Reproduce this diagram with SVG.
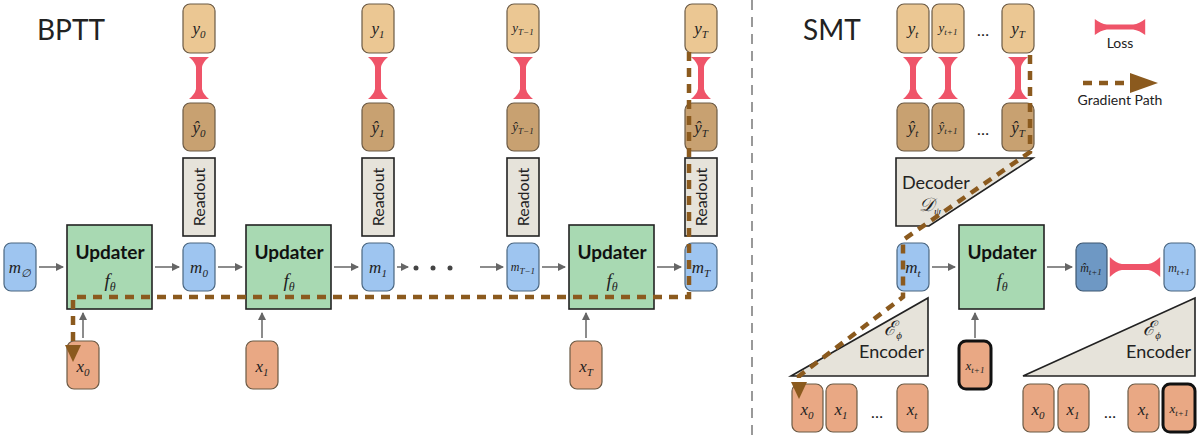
<svg xmlns="http://www.w3.org/2000/svg" width="1200" height="437" viewBox="0 0 1200 437">
<style>
.y{fill:#ebc793;stroke:#6b5a45;stroke-width:1.2}
.yh{fill:#c8a171;stroke:#6b5a45;stroke-width:1.2}
.x{fill:#e9a884;stroke:#6b5a45;stroke-width:1.2}
.xb{fill:#e9a884;stroke:#111;stroke-width:3}
.m{fill:#9ec5f0;stroke:#4a6680;stroke-width:1.2}
.md{fill:#6e98c4;stroke:#3d5670;stroke-width:1.2}
.up{fill:#a8d9b2;stroke:#222;stroke-width:1.6}
.ro{fill:#e6e3da;stroke:#222;stroke-width:1.6}
.t{font-family:"Liberation Serif",serif;font-style:italic;fill:#222;text-anchor:middle}
.s{font-family:"Lato","Open Sans",sans-serif;fill:#222}
.b{font-family:"Lato","Open Sans",sans-serif;font-weight:bold;font-size:19px;fill:#111;text-anchor:middle}
.a{stroke:#666;stroke-width:1.5;fill:none;marker-end:url(#ah)}
.g{stroke:#8b5a1e;stroke-width:4.5;fill:none;stroke-dasharray:9 7}
.loss{fill:#ef5469}
</style>
<defs>
<marker id="ah" markerWidth="8" markerHeight="8" refX="7" refY="4" orient="auto" markerUnits="userSpaceOnUse"><path d="M0,0 L8,4 L0,8 z" fill="#666"/></marker>
<path id="lv" d="M-10,-21 L10,-21 Q4,-16 3,-11 L3,11 Q4,16 10,21 L-10,21 Q-4,16 -3,11 L-3,-11 Q-4,-16 -10,-21 z"/>
</defs>
<text class="s" x="37" y="40" font-size="28">BPTT</text>
<text class="s" x="803" y="40" font-size="28">SMT</text>
<line x1="752" y1="0" x2="752" y2="437" stroke="#999" stroke-width="2" stroke-dasharray="10 7"/>

<g id="m-null"><rect class="m" x="4" y="243" width="32" height="48" rx="7"/><text class="t" x="20" y="273" font-size="17">m<tspan font-size="11" dy="4">∅</tspan></text></g>
<g id="updater1"><rect class="up" x="67" y="225" width="85" height="84"/><text class="b" x="110" y="259">Updater</text><text class="t" x="110" y="287" font-size="19">f<tspan font-size="12" dy="4">θ</tspan></text></g>
<g id="updater2"><rect class="up" x="246" y="225" width="85" height="84"/><text class="b" x="289" y="259">Updater</text><text class="t" x="289" y="287" font-size="19">f<tspan font-size="12" dy="4">θ</tspan></text></g>
<g id="updater3"><rect class="up" x="569" y="225" width="85" height="84"/><text class="b" x="612" y="259">Updater</text><text class="t" x="612" y="287" font-size="19">f<tspan font-size="12" dy="4">θ</tspan></text></g>

<g id="x0"><rect class="x" x="67" y="341" width="32" height="48" rx="7"/><text class="t" x="83" y="372" font-size="17">x<tspan font-size="11" dy="4">0</tspan></text></g>
<g id="x1"><rect class="x" x="246" y="341" width="32" height="48" rx="7"/><text class="t" x="262" y="372" font-size="17">x<tspan font-size="11" dy="4">1</tspan></text></g>
<g id="xT"><rect class="x" x="570" y="341" width="32" height="48" rx="7"/><text class="t" x="586" y="372" font-size="17">x<tspan font-size="11" dy="4">T</tspan></text></g>

<g id="col0">
<rect class="y" x="183" y="4" width="32" height="49" rx="7"/><text class="t" x="199" y="34" font-size="17">y<tspan font-size="11" dy="4">0</tspan></text>
<use href="#lv" class="loss" x="199" y="78"/>
<rect class="yh" x="183" y="103" width="32" height="48" rx="7"/><text class="t" x="199" y="133" font-size="17">ŷ<tspan font-size="11" dy="4">0</tspan></text>
<rect class="ro" x="183" y="158" width="32" height="78"/><text class="s" font-size="16" transform="translate(205,197) rotate(-90)" text-anchor="middle">Readout</text>
<rect class="m" x="183" y="243" width="32" height="48" rx="7"/><text class="t" x="199" y="273" font-size="17">m<tspan font-size="11" dy="4">0</tspan></text>
</g>
<g id="col1">
<rect class="y" x="362" y="4" width="32" height="49" rx="7"/><text class="t" x="378" y="34" font-size="17">y<tspan font-size="11" dy="4">1</tspan></text>
<use href="#lv" class="loss" x="378" y="78"/>
<rect class="yh" x="362" y="103" width="32" height="48" rx="7"/><text class="t" x="378" y="133" font-size="17">ŷ<tspan font-size="11" dy="4">1</tspan></text>
<rect class="ro" x="362" y="158" width="32" height="78"/><text class="s" font-size="16" transform="translate(384,197) rotate(-90)" text-anchor="middle">Readout</text>
<rect class="m" x="362" y="243" width="32" height="48" rx="7"/><text class="t" x="378" y="273" font-size="17">m<tspan font-size="11" dy="4">1</tspan></text>
</g>
<g id="colT1">
<rect class="y" x="507" y="4" width="32" height="49" rx="7"/><text class="t" x="523" y="32" font-size="13">y<tspan font-size="9" dy="3">T−1</tspan></text>
<use href="#lv" class="loss" x="523" y="78"/>
<rect class="yh" x="507" y="103" width="32" height="48" rx="7"/><text class="t" x="523" y="131" font-size="13">ŷ<tspan font-size="9" dy="3">T−1</tspan></text>
<rect class="ro" x="507" y="158" width="32" height="78"/><text class="s" font-size="16" transform="translate(529,197) rotate(-90)" text-anchor="middle">Readout</text>
<rect class="m" x="507" y="243" width="32" height="48" rx="7"/><text class="t" x="523" y="271" font-size="12">m<tspan font-size="9" dy="3">T−1</tspan></text>
</g>
<g id="colT">
<rect class="y" x="685" y="4" width="32" height="49" rx="7"/><text class="t" x="701" y="34" font-size="17">y<tspan font-size="11" dy="4">T</tspan></text>
<use href="#lv" class="loss" x="701" y="78"/>
<rect class="yh" x="685" y="103" width="32" height="48" rx="7"/><text class="t" x="701" y="133" font-size="17">ŷ<tspan font-size="11" dy="4">T</tspan></text>
<rect class="ro" x="685" y="158" width="32" height="78"/><text class="s" font-size="16" transform="translate(707,197) rotate(-90)" text-anchor="middle">Readout</text>
<rect class="m" x="685" y="243" width="32" height="48" rx="7"/><text class="t" x="701" y="273" font-size="17">m<tspan font-size="11" dy="4">T</tspan></text>
</g>
<g id="dots1" fill="#444"><circle cx="416" cy="268" r="2.5"/><circle cx="433" cy="268" r="2.5"/><circle cx="450" cy="268" r="2.5"/></g>

<!-- SMT -->
<g id="smt-y">
<rect class="y" x="897" y="4" width="32" height="49" rx="7"/><text class="t" x="913" y="34" font-size="17">y<tspan font-size="11" dy="4">t</tspan></text>
<rect class="y" x="932" y="4" width="32" height="49" rx="7"/><text class="t" x="948" y="32" font-size="13">y<tspan font-size="9" dy="3">t+1</tspan></text>
<text class="s" x="983" y="36" font-size="16" text-anchor="middle">…</text>
<rect class="y" x="1002" y="4" width="32" height="49" rx="7"/><text class="t" x="1018" y="34" font-size="17">y<tspan font-size="11" dy="4">T</tspan></text>
<use href="#lv" class="loss" x="913" y="78"/><use href="#lv" class="loss" x="948" y="78"/><use href="#lv" class="loss" x="1018" y="78"/>
<rect class="yh" x="897" y="103" width="32" height="48" rx="7"/><text class="t" x="913" y="133" font-size="17">ŷ<tspan font-size="11" dy="4">t</tspan></text>
<rect class="yh" x="932" y="103" width="32" height="48" rx="7"/><text class="t" x="948" y="131" font-size="13">ŷ<tspan font-size="9" dy="3">t+1</tspan></text>
<text class="s" x="983" y="135" font-size="16" text-anchor="middle">…</text>
<rect class="yh" x="1002" y="103" width="32" height="48" rx="7"/><text class="t" x="1018" y="133" font-size="17">ŷ<tspan font-size="11" dy="4">T</tspan></text>
</g>
<g id="decoder"><path d="M896,158 L1033,158 L929,226 L896,226 z" fill="#e6e3da" stroke="#222" stroke-width="1.6"/><text class="s" x="902" y="189" font-size="18">Decoder</text><text class="t" x="930" y="211" font-size="19" font-style="normal" font-family="'DejaVu Serif',serif">𝒟<tspan font-size="11" dy="4" font-style="italic">ψ</tspan></text></g>
<g id="mt"><rect class="m" x="897" y="243" width="32" height="48" rx="7"/><text class="t" x="913" y="273" font-size="17">m<tspan font-size="11" dy="4">t</tspan></text></g>
<g id="updater-smt"><rect class="up" x="959" y="225" width="85" height="84"/><text class="b" x="1002" y="259">Updater</text><text class="t" x="1002" y="287" font-size="19">f<tspan font-size="12" dy="4">θ</tspan></text></g>
<g id="mhat"><rect class="md" x="1076" y="243" width="31" height="48" rx="7"/><text class="t" x="1091" y="272" font-size="12">m̂<tspan font-size="9" dy="3">t+1</tspan></text></g>
<g id="mt1"><rect class="m" x="1164" y="243" width="31" height="48" rx="7"/><text class="t" x="1179" y="272" font-size="12">m<tspan font-size="9" dy="3">t+1</tspan></text></g>
<use href="#lv" class="loss" transform="translate(1135,267) rotate(90) scale(1,1.2)"/>
<g id="enc-left"><path d="M791,376 L928,298 L928,376 z" fill="#e6e3da" stroke="#222" stroke-width="1.6"/><text class="t" x="893" y="335" font-size="20" font-style="normal" font-family="'DejaVu Serif',serif">ℰ<tspan font-size="11" dy="4" font-style="italic">ϕ</tspan></text><text class="s" x="924" y="358" font-size="18" text-anchor="end">Encoder</text></g>
<g id="enc-right"><path d="M1023,376 L1195,298 L1195,376 z" fill="#e6e3da" stroke="#222" stroke-width="1.6"/><text class="t" x="1152" y="335" font-size="20" font-style="normal" font-family="'DejaVu Serif',serif">ℰ<tspan font-size="11" dy="4" font-style="italic">ϕ</tspan></text><text class="s" x="1191" y="358" font-size="18" text-anchor="end">Encoder</text></g>
<g id="xt1"><rect class="xb" x="959" y="341" width="32" height="48" rx="7"/><text class="t" x="975" y="370" font-size="13">x<tspan font-size="9" dy="3">t+1</tspan></text></g>
<g id="x-left">
<rect class="x" x="792" y="384" width="31" height="48" rx="7"/><text class="t" x="807" y="415" font-size="17">x<tspan font-size="11" dy="4">0</tspan></text>
<rect class="x" x="826" y="384" width="31" height="48" rx="7"/><text class="t" x="841" y="415" font-size="17">x<tspan font-size="11" dy="4">1</tspan></text>
<text class="s" x="877" y="418" font-size="16" text-anchor="middle">…</text>
<rect class="x" x="897" y="384" width="31" height="48" rx="7"/><text class="t" x="912" y="415" font-size="17">x<tspan font-size="11" dy="4">t</tspan></text>
</g>
<g id="x-right">
<rect class="x" x="1023" y="384" width="31" height="48" rx="7"/><text class="t" x="1038" y="415" font-size="17">x<tspan font-size="11" dy="4">0</tspan></text>
<rect class="x" x="1058" y="384" width="31" height="48" rx="7"/><text class="t" x="1073" y="415" font-size="17">x<tspan font-size="11" dy="4">1</tspan></text>
<text class="s" x="1110" y="418" font-size="16" text-anchor="middle">…</text>
<rect class="x" x="1128" y="384" width="31" height="48" rx="7"/><text class="t" x="1143" y="415" font-size="17">x<tspan font-size="11" dy="4">t</tspan></text>
<rect class="xb" x="1163" y="384" width="32" height="48" rx="7"/><text class="t" x="1179" y="413" font-size="13">x<tspan font-size="9" dy="3">t+1</tspan></text>
</g>
<g id="legend">
<use href="#lv" class="loss" transform="translate(1120,27) rotate(90) scale(0.8,1.2)"/>
<text class="s" x="1120" y="48" font-size="14" text-anchor="middle">Loss</text>
<line x1="1083" y1="83" x2="1130" y2="83" class="g"/>
<path d="M1130,73 L1158,83 L1130,93 z" fill="#8b5a1e"/>
<text class="s" x="1120" y="105" font-size="14" text-anchor="middle">Gradient Path</text>
</g>

<g id="connectors">
<line class="a" x1="39" y1="267" x2="63" y2="267"/>
<line class="a" x1="155" y1="267" x2="179" y2="267"/>
<line class="a" x1="218" y1="267" x2="242" y2="267"/>
<line class="a" x1="334" y1="267" x2="358" y2="267"/>
<line class="a" x1="397" y1="267" x2="408" y2="267"/>
<line class="a" x1="480" y1="267" x2="503" y2="267"/>
<line class="a" x1="542" y1="267" x2="565" y2="267"/>
<line class="a" x1="657" y1="267" x2="681" y2="267"/>
<line class="a" x1="83" y1="338" x2="83" y2="313"/>
<line class="a" x1="262" y1="338" x2="262" y2="313"/>
<line class="a" x1="586" y1="338" x2="586" y2="313"/>
<line class="a" x1="932" y1="267" x2="955" y2="267"/>
<line class="a" x1="1047" y1="267" x2="1072" y2="267"/>
<line class="a" x1="975" y1="338" x2="975" y2="313"/>
<polyline class="g" points="689,52 689,297 73,297 73,348"/>
<path d="M65,345 L81,345 L73,362 z" fill="#8b5a1e"/>
<polyline class="g" points="1030,55 1030,152 903,240 903,297 799,376 799,385"/>
<path d="M791,382 L807,382 L799,399 z" fill="#8b5a1e"/>
</g>
</svg>
